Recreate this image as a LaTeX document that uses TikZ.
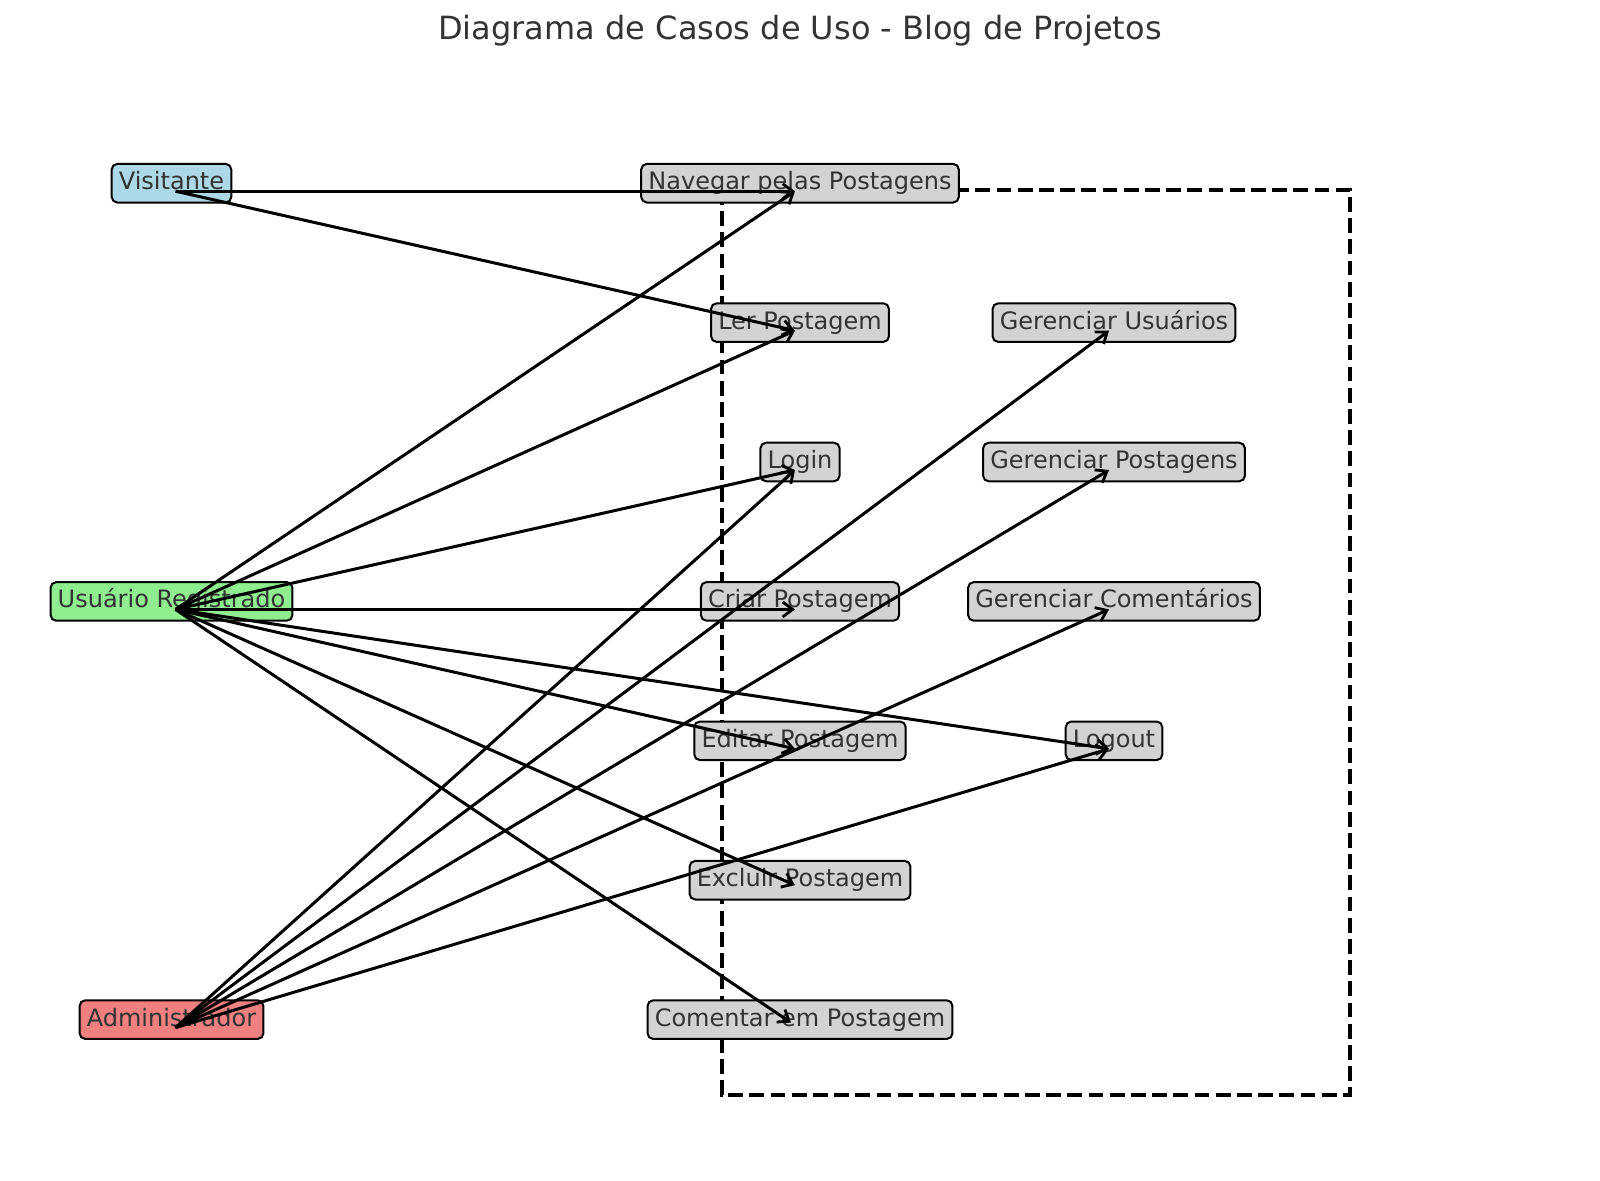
\documentclass[tikz,border=0pt]{standalone}
\usepackage{fontspec}
\setmainfont{DejaVu Sans}
\usetikzlibrary{arrows.meta,calc}
\definecolor{txtgray}{HTML}{333333}
\definecolor{visblue}{HTML}{ADD8E6}
\definecolor{usrgreen}{HTML}{90EE90}
\definecolor{admred}{HTML}{F08080}
\definecolor{ucgray}{HTML}{D3D3D3}
\begin{document}
\begin{tikzpicture}[x=0.5pt,y=-0.5pt,
  box/.style={draw=black, line width=1pt, rounded corners=2.8pt, text=txtgray,
    font=\fontsize{12}{14}\selectfont, inner xsep=3.6pt, inner ysep=0pt,
    minimum height=19.3pt, text height=9pt, text depth=2.6pt},
  ucbox/.style={box, fill=ucgray},
  arr/.style={line width=1.5pt, -{Straight Barb[length=5pt,width=7.5pt,line width=1.4pt]}},
  sysbound/.style={line width=2pt, dash pattern=on 7.4pt off 3.2pt}]
\useasboundingbox (0,0) rectangle (1600,1180);

% title
\node[font=\fontsize{16}{19}\selectfont, text=txtgray, anchor=base] (title) at (800,39)
  {Diagrama de Casos de Uso - Blog de Projetos};

% system boundary
\draw[sysbound] (721.5,190) rectangle (1350,1095);

% actors
\node[box, fill=visblue]  (vis) at (171.5,183.2)  {Visitante};
\node[box, fill=usrgreen] (usr) at (171.5,601.4)  {Usuário Registrado};
\node[box, fill=admred]   (adm) at (171.5,1019.6) {Administrador};

% use cases, centre column
\node[ucbox] (nav)    at (800,183.2)  {Navegar pelas Postagens};
\node[ucbox] (ler)    at (800,322.6)  {Ler Postagem};
\node[ucbox] (login)  at (800,462.0)  {Login};
\node[ucbox] (criar)  at (800,601.4)  {Criar Postagem};
\node[ucbox] (editar) at (800,740.8)  {Editar Postagem};
\node[ucbox] (excl)   at (800,880.2)  {Excluir Postagem};
\node[ucbox] (coment) at (800,1019.6) {Comentar em Postagem};

% use cases, right column
\node[ucbox] (gusr)   at (1114,322.6) {Gerenciar Usuários};
\node[ucbox] (gpost)  at (1114,462.0) {Gerenciar Postagens};
\node[ucbox] (gcom)   at (1114,601.4) {Gerenciar Comentários};
\node[ucbox] (logout) at (1114,740.8) {Logout};

% connector anchor points
\foreach \n in {vis,usr,adm}{
  \coordinate (\n P) at ($(\n.center)+(4,8)$);
}
\foreach \n in {nav,ler,login,criar,editar,gusr,gpost,gcom,logout}{
  \coordinate (\n P) at ($(\n.center)+(-5,8)$);
}
\coordinate (exclP) at ($(excl.center)+(-5,5)$);
\coordinate (comentP) at ($(coment.center)+(-9,3)$);

% Visitante
\draw[arr] (visP) -- (navP);
\draw[arr] (visP) -- (lerP);
% Usuario Registrado
\draw[arr] (usrP) -- (navP);
\draw[arr] (usrP) -- (lerP);
\draw[arr] (usrP) -- (loginP);
\draw[arr] (usrP) -- (criarP);
\draw[arr] (usrP) -- (editarP);
\draw[arr] (usrP) -- (exclP);
\draw[arr] (usrP) -- (comentP);
\draw[arr] (usrP) -- (logoutP);
% Administrador
\draw[arr] (admP) -- (loginP);
\draw[arr] (admP) -- (gusrP);
\draw[arr] (admP) -- (gpostP);
\draw[arr] (admP) -- (gcomP);
\draw[arr] (admP) -- (logoutP);
\end{tikzpicture}
\end{document}
